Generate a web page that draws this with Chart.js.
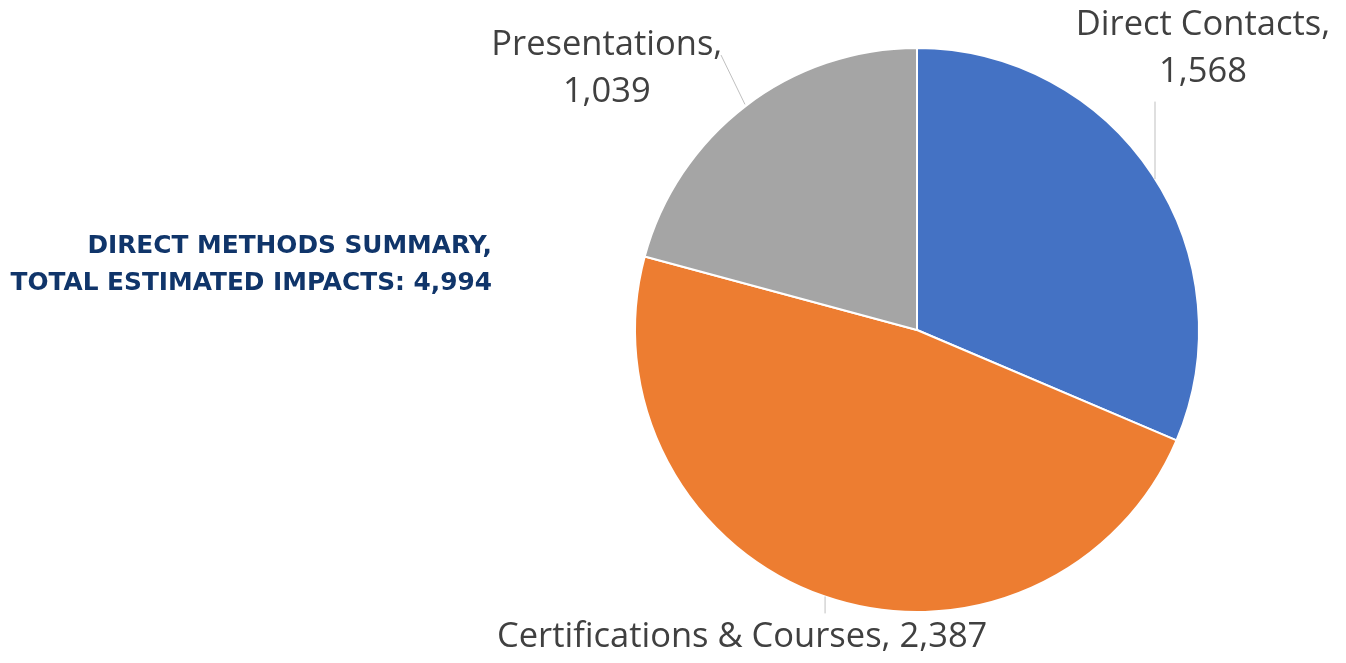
<!DOCTYPE html>
<html>
<head>
<meta charset="utf-8">
<script src="https://cdn.jsdelivr.net/npm/chart.js@4"></script>
<style>
  html, body { margin: 0; padding: 0; background: #fff; }
  #wrap { width: 1346px; height: 663px; position: relative; }
</style>
</head>
<body>
<div id="wrap"><canvas id="pie"></canvas></div>
<script>
const categories = ['Direct Contacts', 'Certifications & Courses', 'Presentations'];
const impacts = [1568, 2387, 1039];
const sliceColors = ['#4472C4', '#ED7D31', '#A5A5A5'];
const titleLines = ['DIRECT METHODS SUMMARY,', 'TOTAL ESTIMATED IMPACTS: 4,994'];

// label text blocks, placed relative to pie centre in units of radius
// lines: text lines, tx/ty: text centre, lh: line height, leader: line from/to
const labelSpots = [
  { lines: ['Direct Contacts,', '1,568'], tx: 1.014, ty: -0.998, lh: 0.167,
    leader: [[0.844, -0.81], [0.844, -0.535]] },
  { lines: ['Certifications & Courses, 2,387'], tx: -0.62, ty: 1.09, lh: 0.167,
    leader: [[-0.326, 1.005], [-0.326, 0.945]] },
  { lines: ['Presentations,', '1,039'], tx: -1.10, ty: -0.926, lh: 0.167,
    leader: [[-0.695, -0.975], [-0.61, -0.80]] }
];

const labelPlugin = {
  id: 'pieLabels',
  afterDraw(chart) {
    const ctx = chart.ctx;
    const arc = chart.getDatasetMeta(0).data[0];
    const cx = arc.x, cy = arc.y, r = arc.outerRadius;
    ctx.save();
    // leader lines
    ctx.strokeStyle = '#BFBFBF';
    ctx.lineWidth = 1;
    labelSpots.forEach(s => {
      ctx.beginPath();
      ctx.moveTo(cx + s.leader[0][0] * r, cy + s.leader[0][1] * r);
      ctx.lineTo(cx + s.leader[1][0] * r, cy + s.leader[1][1] * r);
      ctx.stroke();
    });
    // label text
    ctx.fillStyle = '#404040';
    ctx.font = '34.5px "Open Sans"';
    ctx.textAlign = 'center';
    ctx.textBaseline = 'middle';
    labelSpots.forEach(s => {
      const n = s.lines.length;
      s.lines.forEach((t, i) => {
        const y = cy + (s.ty + (i - (n - 1) / 2) * s.lh) * r;
        ctx.fillText(t, cx + s.tx * r, y);
      });
    });
    // title on the left
    ctx.fillStyle = '#10356A';
    ctx.font = 'bold 24.8px "DejaVu Sans"';
    ctx.textAlign = 'right';
    ctx.textBaseline = 'alphabetic';
    ctx.fillText(titleLines[0], 492, 253);
    ctx.fillText(titleLines[1], 492, 290);
    ctx.restore();
  }
};

new Chart(document.getElementById('pie'), {
  type: 'pie',
  data: {
    labels: categories,
    datasets: [{
      data: impacts,
      backgroundColor: sliceColors,
      borderColor: '#FFFFFF',
      borderWidth: 2
    }]
  },
  options: {
    responsive: true,
    maintainAspectRatio: false,
    animation: false,
    layout: { padding: { left: 634, right: 146, top: 47, bottom: 50 } },
    plugins: {
      legend: { display: false },
      tooltip: { enabled: false },
      title: { display: false }
    }
  },
  plugins: [labelPlugin]
});
</script>
</body>
</html>
